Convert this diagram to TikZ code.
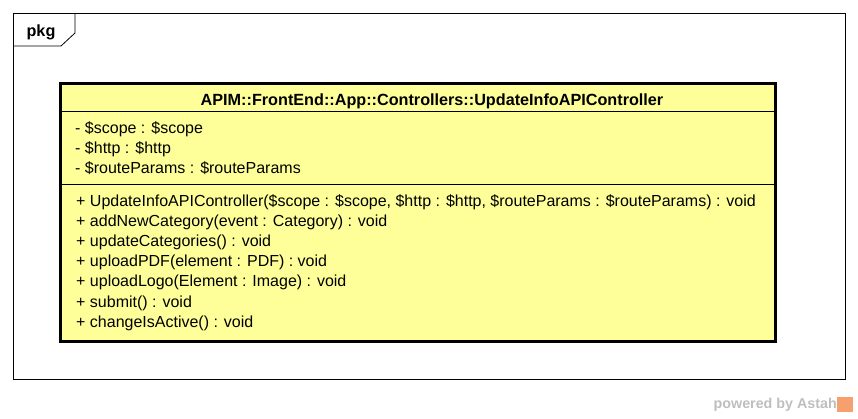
\documentclass[tikz,border=0pt]{standalone}
\usepackage{fontspec}
\setmainfont{Liberation Sans}
\usetikzlibrary{positioning}
\definecolor{classfill}{RGB}{255,255,153}
\definecolor{markgray}{RGB}{190,190,190}
\definecolor{markorange}{RGB}{245,160,110}
\begin{document}
\begin{tikzpicture}[x=1pt,y=-1pt,
    member/.style={anchor=base west,inner sep=0pt,font=\fontsize{16}{16}\selectfont},
    title/.style={anchor=base,inner sep=0pt,font=\fontsize{16.2}{16}\selectfont\bfseries},
    classbox/.style={draw,line width=3pt,fill=classfill,inner sep=0pt}]
\useasboundingbox (0,0) rectangle (858,418);

% package frame
\draw[line width=0.8pt] (13,13) rectangle (845,379);
\draw[line width=0.8pt] (75,13) -- (75,33) -- (61,46) -- (13,46);
\node[title] (pkg) at (41,36) {pkg};

% class
\node[classbox,anchor=north west,minimum width=715pt,minimum height=258pt] (cls) at (58.5,81.5) {};
\draw[line width=0.8pt] ([yshift=-30pt]cls.north west) -- ([yshift=-30pt]cls.north east);
\draw[line width=0.8pt] ([yshift=-102.5pt]cls.north west) -- ([yshift=-102.5pt]cls.north east);
\node[title] (name) at (432,105) {APIM::FrontEnd::App::Controllers::UpdateInfoAPIController};

% attributes
\node[member] (scope) at (75,133.5) {- \$scope : \$scope};
\node[member] (http) at (75,153.5) {- \$http : \$http};
\node[member] (params) at (75,173.5) {- \$routeParams : \$routeParams};

% operations
\node[member] (ctor) at (76,206) {+ UpdateInfoAPIController(\$scope : \$scope, \$http : \$http, \$routeParams : \$routeParams) : void};
\node[member] (addcat) at (76,226) {+ addNewCategory(event : Category) : void};
\node[member] (updcat) at (76,246) {+ updateCategories() : void};
\node[member] (pdf) at (76,266) {+ uploadPDF(element : PDF) : void};
\node[member] (logo) at (76,286) {+ uploadLogo(Element : Image) : void};
\node[member] (submit) at (76,307) {+ submit() : void};
\node[member] (active) at (76,327) {+ changeIsActive() : void};

% watermark
\node[anchor=base east,inner sep=0pt,text=markgray,font=\fontsize{14.3}{14}\selectfont\bfseries] (mark) at (837,408) {powered by Astah};
\fill[markorange] (837,397) rectangle (853,412);
\end{tikzpicture}
\end{document}
